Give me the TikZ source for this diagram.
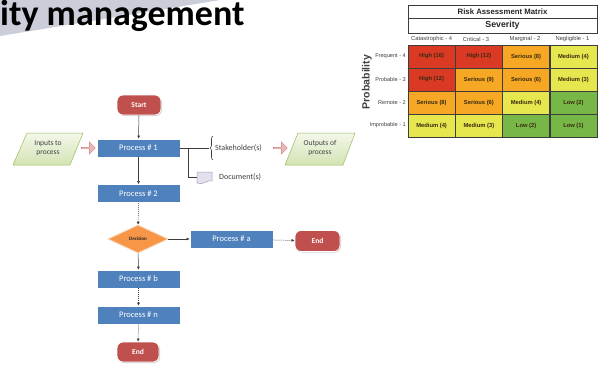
\documentclass[tikz,border=0pt]{standalone}
\usepackage{fontspec}
\setmainfont{Carlito}
\newfontfamily\arialf{Liberation Sans}
\usetikzlibrary{shapes.geometric,shapes.arrows,shadows,arrows.meta,decorations.pathreplacing}
\definecolor{procblue}{HTML}{4F81BD}
\definecolor{termred}{HTML}{C0504D}
\definecolor{decorange}{HTML}{F79646}
\definecolor{decedge}{HTML}{FBD4B4}
\definecolor{bannergray}{HTML}{CBCDD8}
\definecolor{greenfillA}{HTML}{F3F7EA}
\definecolor{greenfillB}{HTML}{D3E3B3}
\definecolor{greenedge}{HTML}{9BBB59}
\definecolor{pinkfill}{HTML}{E6B9B8}
\definecolor{pinkedge}{HTML}{D07C7A}
\definecolor{docfill}{HTML}{E4DFEC}
\definecolor{docedge}{HTML}{A99BBD}
\definecolor{darktext}{HTML}{404040}
\definecolor{mred}{HTML}{DA3A24}
\definecolor{morange}{HTML}{F6A824}
\definecolor{myellow}{HTML}{E6E64E}
\definecolor{mgreen}{HTML}{76B747}
\definecolor{celltext}{HTML}{3A2A10}
\definecolor{linegray}{HTML}{3C3C3C}
\begin{document}
\begin{tikzpicture}[x=1pt,y=-1pt,
  proc/.style={rectangle, fill=procblue, draw=white, line width=0.8pt, minimum width=83pt, minimum height=18pt, inner sep=0pt, text=white, font=\fontsize{8.5}{9}\selectfont, drop shadow={shadow xshift=0.9pt, shadow yshift=-0.9pt, opacity=0.35, fill=gray}},
  term/.style={rectangle, rounded corners=6pt, fill=termred, draw=white, line width=0.8pt, minimum width=44pt, minimum height=20pt, inner sep=0pt, text=white, font=\bfseries\fontsize{7.5}{8}\selectfont, drop shadow={shadow xshift=1pt, shadow yshift=-1pt, opacity=0.35, fill=gray}},
  decis/.style={diamond, aspect=2.1, fill=decorange, draw=decedge, line width=0.8pt, minimum width=60pt, minimum height=28pt, inner sep=0pt, font=\bfseries\fontsize{5}{6}\selectfont, text=black!85},
  flowline/.style={draw=linegray, line width=0.5pt},
  conn/.style={flowline, -{Latex[length=3pt,width=3pt]}},
  dotconn/.style={conn, dash pattern=on 1pt off 1pt},
  para/.style={draw=greenedge, line width=0.5pt, top color=greenfillA, bottom color=greenfillB},
  paratext/.style={align=center, inner sep=0pt, text=darktext, font=\fontsize{7.5}{8.5}\selectfont},
  blockarrow/.style={single arrow, fill=pinkfill, draw=pinkedge, line width=0.4pt, minimum height=14pt, minimum width=12pt, single arrow head extend=1.5pt, inner sep=0pt},
  sidetext/.style={anchor=west, inner sep=0pt, text=darktext, font=\fontsize{8}{9}\selectfont},
  cell/.style={rectangle, draw=linegray, line width=0.5pt, minimum width=47.25pt, minimum height=23pt, inner sep=0pt, text=celltext, font=\arialf\bfseries\fontsize{5.8}{7}\selectfont},
  headtext/.style={inner sep=0pt, text=darktext, font=\arialf\fontsize{5.8}{7}\selectfont},
  rowlab/.style={anchor=east, inner sep=0pt, text=darktext, font=\arialf\fontsize{5.6}{7}\selectfont},
  boxrow/.style={rectangle, draw=linegray, line width=0.6pt, minimum width=189pt, inner sep=0pt, text=black!85}
]
\useasboundingbox (0,0) rectangle (602,368);
\fill[white] (0,0) rectangle (602,368);

% title banner
\fill[bannergray] (0,0) -- (220,0) -- (0,36) -- cycle;
\node[anchor=base west, inner sep=0pt, font=\bfseries\fontsize{36}{36}\selectfont] (title) at (0,25.5) {ity management};

% flowchart
\node[term] (start) at (139,105) {Start};
\node[proc] (p1) at (138.5,148) {Process \# 1};
\node[proc] (p2) at (138.5,193.5) {Process \# 2};
\node[decis] (dec) at (138,239) {Decision};
\node[proc] (pa) at (231.5,239) {Process \# a};
\node[term, minimum width=45pt, minimum height=21pt] (endr) at (317.5,241) {End};
\node[proc] (pb) at (138.5,279) {Process \# b};
\node[proc] (pn) at (138.5,315) {Process \# n};
\node[term, minimum width=42pt] (endb) at (138,352) {End};

\draw[conn] (start) -- (p1);
\draw[conn] (p1) -- (p2);
\draw[dotconn] (p2) -- (dec);
\draw[conn] (dec) -- (pa);
\draw[dotconn] (pa) -- (endr);
\draw[conn] (dec) -- (pb);
\draw[dotconn] (pb) -- (pn);
\draw[dotconn] (pn) -- (endb);

% inputs / outputs
\draw[para] (13,165) -- (27,133) -- (83,133) -- (70,165) -- cycle;
\node[paratext] (inp) at (48,148) {Inputs to\\process};
\node[blockarrow] (arrin) at (88,148) {};

\coordinate (brtip) at (209,148);
\coordinate (br) at (188,148);
\draw[flowline] (p1.east) -- (brtip);
\draw[flowline, line width=0.6pt, decorate, decoration={brace, amplitude=3pt}] (213,160) -- (213,136);
\node[sidetext] (stake) at (215,148) {Stakeholder(s)};
\node[blockarrow] (arrout) at (280,148) {};
\draw[para] (285,165) -- (298,133) -- (355,133) -- (343,165) -- cycle;
\node[paratext] (outp) at (320,148) {Outputs of\\process};

\node[minimum width=15pt, minimum height=11pt, inner sep=0pt] (doc) at (204.5,177.5) {};
\draw[fill=docfill, draw=docedge, line width=0.5pt] (197,172) -- (212,172) -- (212,181) .. controls (208,179) and (203,186) .. (197,183) -- cycle;
\draw[flowline] (br) |- (doc.west);
\node[sidetext] (doctext) at (219,177) {Document(s)};

% risk matrix
\node[boxrow, minimum height=13pt, font=\arialf\bfseries\fontsize{7.8}{8}\selectfont] (rtitle) at (502.5,11.5) {Risk Assessment Matrix};
\node[boxrow, minimum height=15pt, font=\arialf\bfseries\fontsize{8.8}{9}\selectfont] (sev) at (502.5,25.5) {Severity};
\node[headtext] (h1) at (431.6,39) {Catastrophic - 4};
\node[headtext] (h2) at (476,39) {Critical - 3};
\node[headtext] (h3) at (525,39) {Marginal - 2};
\node[headtext] (h4) at (572.5,39) {Negligible - 1};

\node[cell, fill=mred] (c11) at (431.6,56.5) {High (16)};
\node[cell, fill=mred] (c12) at (478.9,56.5) {High (12)};
\node[cell, fill=morange] (c13) at (526.1,56.5) {Serious (8)};
\node[cell, fill=myellow] (c14) at (573.4,56.5) {Medium (4)};
\node[cell, fill=mred] (c21) at (431.6,79.5) {High (12)};
\node[cell, fill=morange] (c22) at (478.9,79.5) {Serious (9)};
\node[cell, fill=morange] (c23) at (526.1,79.5) {Serious (6)};
\node[cell, fill=myellow] (c24) at (573.4,79.5) {Medium (3)};
\node[cell, fill=morange] (c31) at (431.6,102.5) {Serious (8)};
\node[cell, fill=morange] (c32) at (478.9,102.5) {Serious (6)};
\node[cell, fill=myellow] (c33) at (526.1,102.5) {Medium (4)};
\node[cell, fill=mgreen] (c34) at (573.4,102.5) {Low (2)};
\node[cell, fill=myellow] (c41) at (431.6,125.5) {Medium (4)};
\node[cell, fill=myellow] (c42) at (478.9,125.5) {Medium (3)};
\node[cell, fill=mgreen] (c43) at (526.1,125.5) {Low (2)};
\node[cell, fill=mgreen] (c44) at (573.4,125.5) {Low (1)};

\node[rowlab] (r1) at (406,56.5) {Frequent - 4};
\node[rowlab] (r2) at (406,79.5) {Probable - 3};
\node[rowlab] (r3) at (406,102.5) {Remote - 2};
\node[rowlab] (r4) at (406,125.5) {Improbable - 1};
\node[rotate=90, inner sep=0pt, text=darktext, font=\arialf\bfseries\fontsize{10.5}{11}\selectfont] (prob) at (367,82) {Probability};
\end{tikzpicture}
\end{document}
